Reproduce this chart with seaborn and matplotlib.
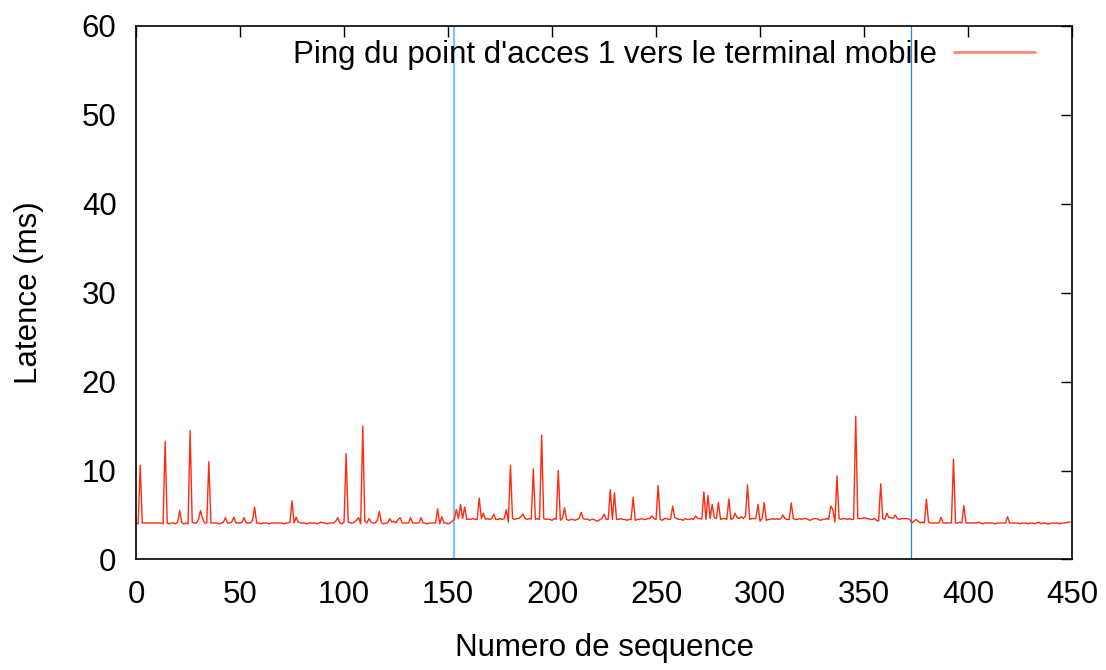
import numpy as np
import pandas as pd
import matplotlib
matplotlib.use("Agg")
import matplotlib.pyplot as plt
import seaborn as sns

# Round-trip latency (ms) for each ping sequence number 0..449
latency_ms = [
    4.1, 4.0, 10.6, 4.1, 4.1, 4.1, 4.1, 4.1, 4.1, 4.1,
    4.1, 4.1, 4.1, 4.0, 13.3, 4.1, 4.0, 4.1, 4.1, 4.0,
    4.2, 5.5, 4.1, 4.0, 4.1, 4.0, 14.5, 4.2, 4.1, 4.1,
    4.5, 5.5, 4.6, 4.1, 4.1, 11.0, 4.1, 4.1, 4.1, 4.1,
    4.0, 4.1, 4.2, 4.7, 4.1, 4.1, 4.2, 4.75, 4.1, 4.1,
    4.1, 4.2, 4.7, 4.1, 4.1, 4.1, 4.4, 5.9, 4.1, 4.1,
    4.0, 4.1, 4.1, 4.1, 4.0, 4.1, 4.1, 4.1, 4.1, 4.1,
    4.1, 4.0, 4.1, 4.1, 4.2, 6.6, 4.1, 4.75, 4.2, 4.1,
    4.1, 4.1, 4.0, 4.1, 4.1, 4.1, 4.1, 4.0, 4.1, 4.2,
    4.1, 4.1, 4.0, 4.1, 4.1, 4.1, 4.3, 4.7, 4.1, 4.0,
    4.2, 11.9, 4.2, 4.1, 4.1, 4.2, 4.4, 4.7, 4.0, 15.0,
    4.3, 4.1, 4.6, 4.2, 4.1, 4.1, 4.4, 5.4, 4.1, 4.0,
    4.1, 4.1, 4.6, 4.2, 4.3, 4.1, 4.5, 4.7, 4.1, 4.1,
    4.1, 4.1, 4.7, 4.1, 4.1, 4.1, 4.1, 4.7, 4.1, 4.1,
    4.0, 4.1, 4.1, 4.1, 4.1, 5.7, 4.0, 4.8, 4.1, 4.1,
    4.0, 4.1, 4.3, 4.5, 5.6, 4.6, 6.2, 4.6, 5.9, 4.5,
    4.55, 4.5, 4.6, 4.5, 4.5, 6.9, 4.6, 5.2, 4.5, 4.6,
    4.5, 4.6, 5.1, 4.5, 4.5, 4.6, 4.5, 4.6, 5.6, 4.2,
    10.6, 4.6, 4.5, 4.6, 4.6, 4.8, 5.1, 4.6, 4.5, 4.6,
    4.55, 10.2, 4.5, 4.6, 4.5, 14.0, 4.6, 4.5, 4.55, 4.5,
    4.4, 4.6, 4.5, 10.0, 4.4, 4.6, 5.8, 4.5, 4.4, 4.5,
    4.5, 4.4, 4.5, 4.6, 5.3, 4.6, 4.5, 4.55, 4.4, 4.5,
    4.5, 4.4, 4.3, 4.5, 4.6, 5.1, 4.5, 4.5, 7.85, 4.5,
    7.5, 4.5, 4.5, 4.6, 4.5, 4.5, 4.4, 4.5, 4.5, 7.0,
    4.4, 4.5, 4.5, 4.6, 4.5, 4.5, 4.6, 4.6, 4.9, 4.6,
    4.5, 8.3, 4.5, 4.4, 4.6, 4.6, 4.5, 4.55, 6.0, 4.7,
    4.6, 4.5, 4.5, 4.4, 4.6, 4.5, 4.5, 4.6, 4.5, 4.9,
    4.6, 4.6, 4.55, 7.6, 4.5, 7.2, 4.6, 6.2, 4.7, 4.6,
    6.4, 4.5, 4.6, 4.6, 4.5, 6.8, 4.5, 4.6, 5.2, 4.7,
    4.6, 4.8, 4.6, 4.9, 8.4, 4.5, 4.6, 4.6, 4.6, 6.2,
    4.3, 4.6, 6.4, 4.4, 4.5, 4.5, 4.6, 4.5, 4.6, 4.5,
    4.6, 5.0, 4.6, 4.5, 4.5, 6.35, 4.6, 4.5, 4.5, 4.6,
    4.5, 4.6, 4.6, 4.5, 4.4, 4.5, 4.6, 4.6, 4.5, 4.4,
    4.5, 4.5, 4.6, 4.5, 6.0, 5.6, 4.2, 9.4, 4.6, 4.5,
    4.6, 4.6, 4.5, 4.6, 4.5, 4.5, 16.1, 4.6, 4.6, 4.6,
    4.7, 4.6, 4.6, 4.5, 4.5, 4.6, 4.4, 4.3, 8.5, 4.6,
    4.5, 5.2, 4.7, 4.7, 4.6, 5.0, 4.6, 4.5, 4.6, 4.6,
    4.6, 4.6, 4.5, 4.1, 4.3, 4.5, 4.3, 4.1, 4.2, 4.1,
    6.8, 4.2, 4.1, 4.1, 4.1, 4.1, 4.1, 4.75, 4.1, 4.1,
    4.1, 4.1, 4.1, 11.3, 4.1, 4.1, 4.2, 4.1, 6.05, 4.1,
    4.1, 4.1, 4.1, 4.1, 4.1, 4.2, 4.1, 4.0, 4.1, 4.1,
    4.1, 4.1, 4.1, 4.0, 4.1, 4.1, 4.1, 4.1, 4.1, 4.8,
    4.1, 4.1, 4.1, 4.1, 4.1, 4.0, 4.1, 4.1, 4.1, 4.0,
    4.1, 4.1, 4.0, 4.1, 4.2, 4.0, 4.1, 4.1, 4.0, 4.0,
    4.1, 4.1, 4.1, 4.1, 4.0, 4.1, 4.1, 4.1, 4.2, 4.2,
]
sequence = list(range(len(latency_ms)))

# Handover instants (sequence numbers)
handover_1 = 153
handover_2 = 372.5

x_ticks = [0, 50, 100, 150, 200, 250, 300, 350, 400, 450]
y_ticks = [0, 10, 20, 30, 40, 50, 60]
series_label = "Ping du point d'acces 1 vers le terminal mobile"

df = pd.DataFrame({"seq": sequence, "latency": latency_ms})

sns.set_style("white")
plt.rcParams["font.family"] = ["Liberation Sans", "DejaVu Sans"]
plt.rcParams["text.color"] = "black"
plt.rcParams["axes.labelcolor"] = "black"
plt.rcParams["xtick.color"] = "black"
plt.rcParams["ytick.color"] = "black"

FS = 22.5

fig = plt.figure(figsize=(11.06, 6.70), dpi=100)
ax = fig.add_axes([0.123, 0.165, 0.8463, 0.7962])

sns.lineplot(data=df, x="seq", y="latency", ax=ax, color="#ff2a10",
             linewidth=1.0, label=series_label)

ax.axvline(handover_1, color="#80c4ff", linewidth=1.6, zorder=1)
ax.axvline(handover_2, color="#1e88e5", linewidth=0.9, zorder=1)

ax.set_xlim(0, 450)
ax.set_ylim(0, 60)
ax.set_xticks(x_ticks)
ax.set_yticks(y_ticks)
ax.tick_params(axis="both", which="major", direction="in", length=8,
               width=1, labelsize=FS, top=True, right=True,
               labeltop=False, labelright=False, colors="black")
ax.tick_params(axis="x", pad=15)
ax.tick_params(axis="y", pad=14)
for s in ax.spines.values():
    s.set_color("black")
    s.set_linewidth(1.2)

ax.set_xlabel("Numero de sequence", fontsize=FS, labelpad=16)
ax.set_ylabel("Latence (ms)", fontsize=FS, labelpad=27)

leg = ax.legend(loc="upper right", bbox_to_anchor=(0.974, 0.998),
                frameon=False, markerfirst=False, fontsize=FS,
                handlelength=2.6, handletextpad=0.55, borderaxespad=0.0)
for h in leg.get_lines():
    h.set_color("#ff8a70")
    h.set_linewidth(2.0)

fig.savefig("out.png", dpi=100)
